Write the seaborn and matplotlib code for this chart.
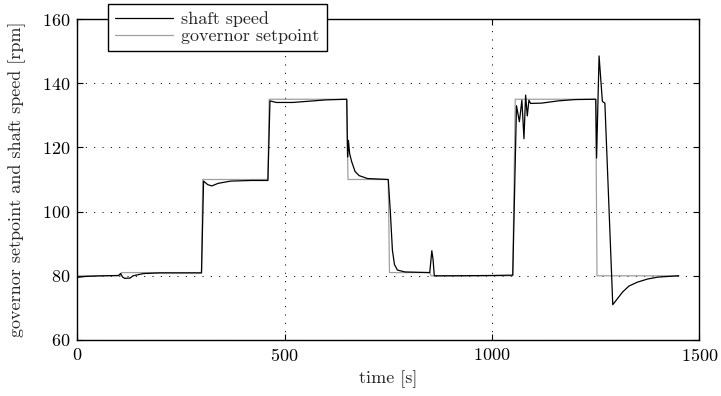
import matplotlib
matplotlib.use("Agg")
import matplotlib.pyplot as plt
import seaborn as sns
import pandas as pd

# governor setpoint [rpm] vs time [s]
setpoint_t = [0, 105, 107, 300, 303, 460, 463, 650, 653, 750, 753, 850, 853, 1050, 1056, 1250, 1253, 1450]
setpoint_v = [80, 80, 81, 81, 110, 110, 135, 135, 110, 110, 81, 81, 80, 80, 135, 135, 80, 80]

# shaft speed [rpm] vs time [s]
speed_t = [0, 20, 60, 100, 105, 110, 115, 128, 135, 160, 200, 300, 305, 315, 325, 340, 370, 420, 460,
           465, 480, 520, 560, 600, 650, 652, 654, 657, 662, 670, 680, 700, 750, 755, 760, 765, 772,
           790, 850, 855, 858, 861, 900, 1000, 1050, 1059, 1066, 1072, 1077, 1081, 1085, 1089, 1093,
           1120, 1160, 1200, 1250, 1252, 1258, 1266, 1272, 1291, 1300, 1315, 1330, 1350, 1375, 1400, 1450]
speed_v = [79.5, 79.8, 80.0, 80.1, 80.7, 79.6, 79.2, 79.3, 80.0, 80.7, 80.9, 80.9, 109.5, 108.4, 108.0,
           108.8, 109.5, 109.7, 109.7, 134.5, 134.0, 134.0, 134.4, 134.8, 135.0, 117.0, 122.2, 118.0,
           115.5, 112.5, 111.2, 110.3, 110.0, 100.0, 88.0, 83.5, 81.8, 81.2, 81.0, 87.8, 85.0, 80.0,
           80.0, 80.1, 80.2, 133.0, 128.0, 134.7, 122.7, 136.3, 129.8, 134.7, 133.7, 133.8, 134.5,
           134.9, 135.0, 116.7, 148.5, 134.3, 133.8, 71.0, 72.5, 75.0, 76.8, 78.0, 79.0, 79.6, 80.0]

x_ticks = [0, 500, 1000, 1500]
y_ticks = [60, 80, 100, 120, 140, 160]

sns.set_style("ticks")
plt.rcParams["font.family"] = ["cmr10", "DejaVu Serif"]
plt.rcParams["mathtext.fontset"] = "cm"
plt.rcParams["axes.formatter.use_mathtext"] = True

FS = 13
fig = plt.figure(figsize=(7.21, 3.96), dpi=100)
ax = fig.add_axes([77 / 721, 1 - 340 / 396, (699.5 - 77) / 721, (340 - 19) / 396])

sp = pd.DataFrame({"t": setpoint_t, "v": setpoint_v})
sd = pd.DataFrame({"t": speed_t, "v": speed_v})

sns.lineplot(data=sp, x="t", y="v", ax=ax, color="#a0a0a0", lw=0.9, estimator=None, sort=False,
             label="governor setpoint", zorder=2)
sns.lineplot(data=sd, x="t", y="v", ax=ax, color="black", lw=0.9, estimator=None, sort=False,
             label="shaft speed", zorder=3)

ax.set_xlim(0, 1500)
ax.set_ylim(60, 160)
ax.set_xticks(x_ticks)
ax.set_yticks(y_ticks)
ax.tick_params(direction="in", top=True, right=True, length=4, width=0.8, labelsize=FS,
               colors="black", pad=5)
for s in ax.spines.values():
    s.set_linewidth(1.0)
    s.set_color("black")
ax.grid(True, linestyle=(0, (1, 7)), color="black", linewidth=0.75)
ax.set_xlabel("time [s]", fontsize=FS)
ax.set_ylabel("governor setpoint and shaft speed [rpm]", fontsize=FS)
ax.xaxis.set_label_coords(0.5, -0.095)
ax.yaxis.set_label_coords(-0.082, 0.5)

handles, labels = ax.get_legend_handles_labels()
order = [1, 0]
leg = ax.legend([handles[i] for i in order], [labels[i] for i in order],
                loc="upper left", bbox_to_anchor=(108 / 721, 1 - 4 / 396), bbox_transform=fig.transFigure,
                borderaxespad=0, fancybox=False, framealpha=1, edgecolor="black", fontsize=FS,
                handlelength=3.2, handletextpad=0.45, borderpad=0.4, labelspacing=0.08)
leg.get_frame().set_linewidth(1.0)
leg.set_zorder(10)

fig.savefig("out.png", dpi=100)
